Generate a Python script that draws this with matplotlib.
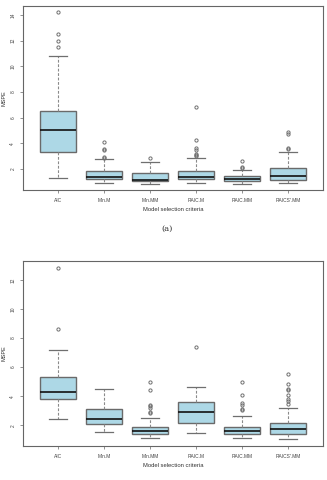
import matplotlib
matplotlib.use("Agg")
import matplotlib.pyplot as plt

categories = ["AIC", "Min.M", "Min.MM", "RAIC.M", "RAIC.MM", "RAICS'.MM"]

# Panel (a): whisker low, Q1, median, Q3, whisker high, outliers
a_whislo = [1.32, 0.93, 0.83, 0.93, 0.83, 0.89]
a_q1 = [3.35, 1.20, 1.07, 1.20, 1.07, 1.12]
a_med = [5.06, 1.38, 1.17, 1.38, 1.22, 1.43]
a_q3 = [6.50, 1.82, 1.66, 1.87, 1.43, 2.05]
a_whishi = [10.80, 2.78, 2.57, 2.88, 1.92, 3.35]
a_fliers = [
    [14.2, 12.55, 12.0, 11.5],
    [4.12, 3.6, 3.5, 2.93, 2.87],
    [2.83],
    [6.8, 4.3, 3.66, 3.5, 3.2, 3.1, 3.0],
    [2.65, 2.16, 2.05],
    [4.85, 4.7, 3.66, 3.53],
]

# Panel (b)
b_whislo = [2.46, 1.54, 1.15, 1.50, 1.13, 1.08]
b_q1 = [3.83, 2.07, 1.40, 2.18, 1.43, 1.43]
b_med = [4.29, 2.46, 1.61, 2.89, 1.61, 1.72]
b_q3 = [5.30, 3.10, 1.88, 3.60, 1.90, 2.18]
b_whishi = [7.18, 4.50, 2.52, 4.65, 2.64, 3.17]
b_fliers = [
    [12.84, 8.65],
    [],
    [5.0, 4.45, 3.42, 3.3, 3.2, 2.92, 2.85],
    [7.38],
    [4.98, 4.06, 3.53, 3.42, 3.15, 3.05],
    [5.55, 4.87, 4.52, 4.45, 4.06, 3.84, 3.69, 3.49],
]

a_yticks = [2, 4, 6, 8, 10, 12, 14]
b_yticks = [2, 4, 6, 8, 10, 12]

W, H = 327, 480
fig = plt.figure(figsize=(W / 100, H / 100), dpi=100)
plt.rcParams['font.family'] = ['Liberation Sans', 'DejaVu Sans']

def make_stats(wl, q1, med, q3, wh, fl):
    return [dict(whislo=wl[i], q1=q1[i], med=med[i], q3=q3[i], whishi=wh[i],
                 fliers=fl[i], label=categories[i]) for i in range(len(categories))]

def draw(ax_rect, stats, ylim, yticks):
    ax = fig.add_axes(ax_rect)
    ax.bxp(stats, positions=range(1, 7), widths=0.8, patch_artist=True,
           showfliers=True,
           boxprops=dict(facecolor='#ADD8E6', edgecolor='#6a6a6a', linewidth=1.0),
           medianprops=dict(color='#111111', linewidth=1.2),
           whiskerprops=dict(color='#8a8a8a', linestyle=(0, (2.5, 1.5)), linewidth=0.8),
           capprops=dict(color='#6f6f6f', linewidth=0.9),
           capwidths=0.4,
           flierprops=dict(marker='o', markersize=2.3, markerfacecolor='none',
                           markeredgecolor='#6f6f6f', markeredgewidth=0.7))
    ax.set_xlim(0.24, 6.76)
    ax.set_ylim(*ylim)
    ax.set_yticks(yticks)
    ax.set_yticklabels([str(t) for t in yticks], rotation=90, va='center', fontsize=3.5, color='#444444')
    ax.set_xticks(range(1, 7))
    ax.set_xticklabels(categories, fontsize=3.5, color='#444444')
    ax.tick_params(axis='both', length=2.5, width=0.5, color='#666666', pad=3)
    for s in ax.spines.values():
        s.set_color('#666666')
        s.set_linewidth(0.8)
    ax.set_xlabel('Model selection criteria', fontsize=4.2, color='#333333', labelpad=3)
    ax.set_ylabel('MSPE', fontsize=4.0, color='#333333', labelpad=3)
    return ax

def rect(l, t, r, b):
    return [l / W, 1 - b / H, (r - l) / W, (b - t) / H]

draw(rect(23, 6, 323, 190), make_stats(a_whislo, a_q1, a_med, a_q3, a_whishi, a_fliers),
     (0.37, 14.7), a_yticks)
draw(rect(23, 261, 323, 446), make_stats(b_whislo, b_q1, b_med, b_q3, b_whishi, b_fliers),
     (0.58, 13.29), b_yticks)

fig.text(167 / W, 1 - 229 / H, '(a)', family='DejaVu Serif', fontsize=6, ha='center', va='center', color='#333333')
fig.text(167 / W, 1 - 485 / H, '(b)', family='DejaVu Serif', fontsize=6, ha='center', va='center', color='#333333')

fig.savefig('out.png', dpi=100)
